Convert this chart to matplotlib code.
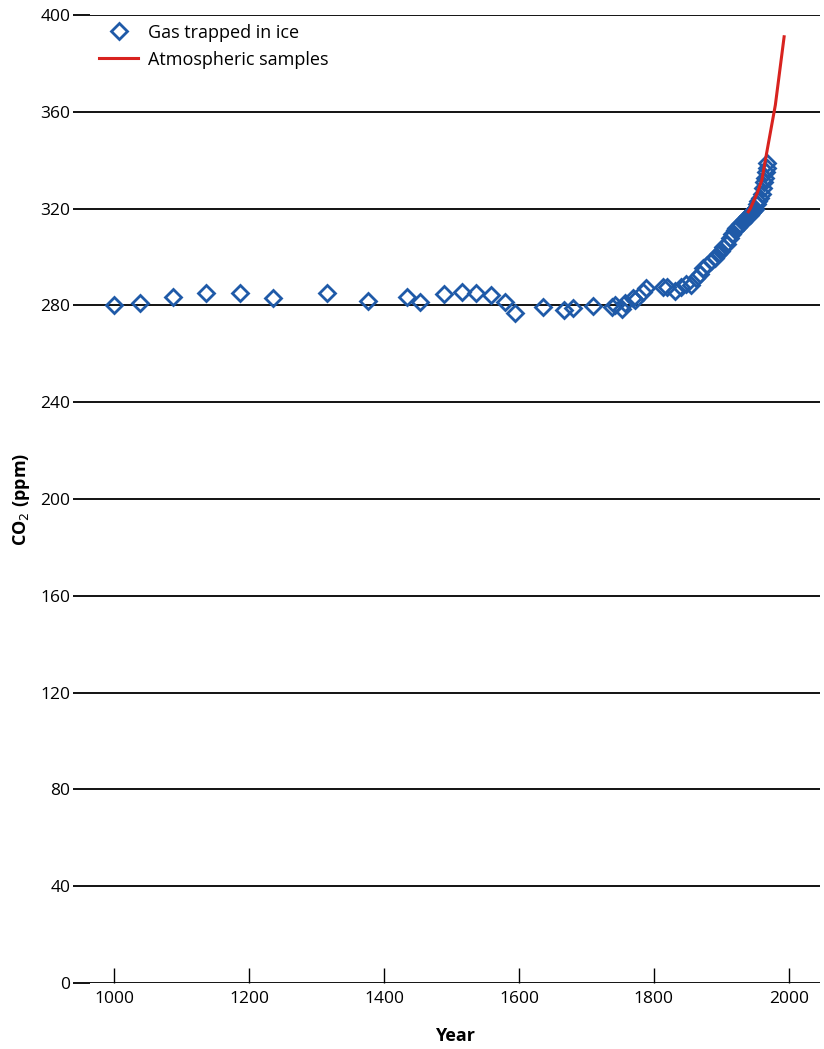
import numpy as np
import matplotlib.pyplot as plt

# ice core CO2 (year, ppm)
ice_years = [1000, 1038, 1087, 1136, 1186, 1236, 1316, 1376, 1434, 1453,
             1489, 1516, 1537, 1559, 1579, 1594, 1636, 1667, 1680, 1710,
             1738, 1742, 1752, 1757, 1769, 1772, 1784, 1789, 1813, 1819,
             1831, 1840, 1848, 1855, 1863, 1868, 1873, 1878, 1885, 1890,
             1895, 1900, 1903, 1908, 1913, 1916, 1920, 1922, 1925, 1928,
             1932, 1935, 1938, 1940, 1942, 1944, 1946, 1948, 1950, 1953,
             1955, 1957, 1960, 1962, 1963, 1965, 1966, 1968, 1967]
ice_ppm = [280.2, 281.2, 283.5, 285.0, 285.2, 283.2, 285.3, 282.0, 283.6, 281.4,
           284.6, 285.4, 285.0, 284.2, 281.6, 276.8, 279.4, 278.1, 278.9, 279.7,
           279.5, 280.3, 278.4, 281.0, 282.9, 282.4, 285.6, 287.2, 287.7, 287.5,
           285.8, 287.5, 289.0, 288.5, 291.5, 293.0, 295.5, 296.5, 298.5, 299.5,
           301.3, 302.5, 304.0, 305.5, 308.0, 309.5, 311.0, 311.8, 312.5, 313.5,
           314.5, 315.5, 316.5, 317.0, 317.4, 318.0, 318.8, 319.5, 320.0, 322.0,
           323.0, 324.2, 326.0, 328.4, 331.0, 332.5, 335.0, 336.6, 338.8]

# atmospheric samples
atm_years = [1940, 1943, 1953, 1960, 1967, 1980, 1993]
atm_ppm = [318.7, 320.1, 326.3, 331.8, 342.8, 362.8, 391.0]

y_ticks = [0, 40, 80, 120, 160, 200, 240, 280, 320, 360, 400]
x_ticks = [1000, 1200, 1400, 1600, 1800, 2000]

plt.rcParams['font.family'] = ['Open Sans', 'DejaVu Sans']

fig = plt.figure(figsize=(8.24, 10.49), dpi=100)
ax = fig.add_axes([0.109, 0.0629, 0.886, 0.9228])

for yv in y_ticks:
    ax.axhline(yv, color='black', lw=1.3, zorder=1)

ax.plot(ice_years, ice_ppm, linestyle='none', marker='D', ms=8.5,
        markerfacecolor='none', markeredgecolor='#1f5aa8', mew=2.0,
        zorder=3, label='Gas trapped in ice')
ax.plot(atm_years, atm_ppm, color='#d8231f', lw=2.2, zorder=4,
        label='Atmospheric samples')

ax.set_xlim(964, 2046)
ax.set_ylim(0, 400)
for s in ax.spines.values():
    s.set_visible(False)

ax.set_yticks(y_ticks)
ax.tick_params(axis='y', length=12, width=1.3, labelsize=12.5, pad=2)
ax.set_xticks(x_ticks)
ax.tick_params(axis='x', direction='in', length=11, width=1.0, labelsize=12.5, pad=6)

ax.set_xlabel('Year', fontsize=13, fontweight='bold', labelpad=14)
ax.set_ylabel('CO$_2$ (ppm)', fontsize=13, fontweight='bold', labelpad=6)

ax.legend(loc='upper left', bbox_to_anchor=(-0.01, 1.008), frameon=False,
          fontsize=13, handlelength=2.2, handletextpad=0.5, labelspacing=0.5)

fig.savefig('out.png', dpi=100)
